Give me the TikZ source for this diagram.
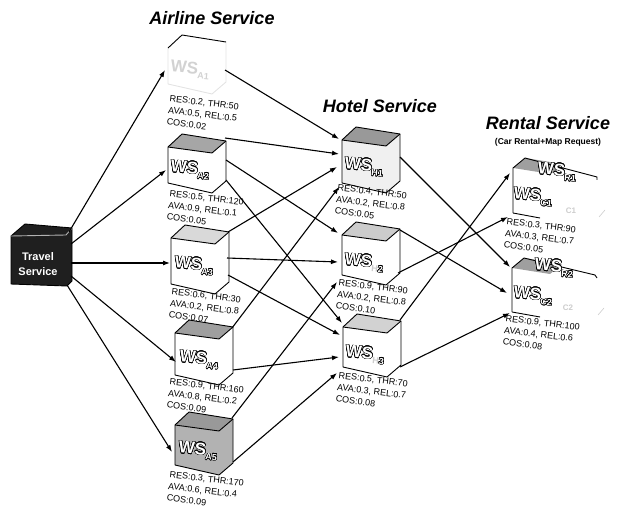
\documentclass[tikz,border=0pt]{standalone}
\usepackage{fontspec}
\setmainfont{Liberation Sans}
\usepackage{contour}
\contourlength{0.5pt}
\contournumber{16}
\usetikzlibrary{arrows.meta,calc}
\tikzset{
 cubeline/.style={line width=0.9pt, line join=round},
 conn/.style={line width=1.1pt, -{Latex[length=7pt,width=5pt]}},
 lbl/.style={font=\fontsize{9}{11.8}\selectfont, align=left, anchor=north west, rotate=-7, inner sep=0pt},
 ttl/.style={font=\fontsize{18}{20}\selectfont\bfseries\itshape},
 wsl/.style={font=\fontsize{17}{17}\selectfont\bfseries, inner sep=0pt, rotate=-5},
}
\newcommand\wsname[1]{{\color{white}\contour{black}{WS}\raisebox{-0.5ex}{\fontsize{9}{9}\selectfont\contour{black}{#1}}}}
\newcommand\wscube[6]{% name, x, y, h, front fill, top fill
 \coordinate (#1) at (#2,#3);
 \begin{scope}[shift={(#2,#3)}]
  \fill[#5] (0,0) -- (44,6) -- (58,-6) -- (58,#4-2) -- (44,#4+10) -- (0,#4) -- cycle;
  \fill[#6] (0,0) -- (14,-13) -- (58,-6) -- (44,6) -- cycle;
  \draw[cubeline] (0,0) -- (14,-13) -- (58,-6) -- (58,#4-2) -- (44,#4+10) -- (0,#4) -- cycle;
  \draw[cubeline] (0,0) -- (44,6) -- (58,-6);
 \end{scope}}
\begin{document}
\begin{tikzpicture}[x=1pt,y=-1pt]
\useasboundingbox (0,0) rectangle (621,510);
% titles
\node[ttl] (tA) at (212,18) {Airline Service};
\node[ttl] (tH) at (380,106) {Hotel Service};
\node[ttl] (tR) at (548,123) {Rental Service};
\node[font=\fontsize{8.5}{10}\selectfont\bfseries] (tRs) at (548,142) {(Car Rental+Map Request)};
% travel cube
\coordinate (T) at (11,236);
\fill[black!88] (11,236) -- (25,224) -- (72,228) -- (72,281) -- (67,286) -- (11,284) -- cycle;
\draw[cubeline] (11,236) -- (25,224) -- (72,228) -- (72,281) -- (67,286) -- (11,284) -- cycle;
\draw[cubeline, gray!60] (11,236) -- (66,235) -- (72,228);
\node[white, font=\fontsize{11}{15}\selectfont\bfseries, align=center] (Tt) at (38,264) {Travel\\Service};
% airline cubes
\coordinate (A1) at (168,48);
\begin{scope}[shift={(168,48)}]
 \draw[cubeline, gray!22] (58,-6) -- (58,34) -- (44,46) -- (0,36) -- (0,0);
 \draw[cubeline] (0,0) -- (14,-13) -- (58,-6);
 \node[wsl, text=gray!35] (A1t) at (22,22) {WS\raisebox{-0.5ex}{\fontsize{9}{9}\selectfont A1}};
\end{scope}
\wscube{A2}{168}{147}{36}{white}{gray!70}
\wscube{A3}{171}{238}{46}{white}{gray!30}
\wscube{A4}{175}{333}{42}{white}{gray!75}
\wscube{A5}{175}{425}{40}{gray!60}{gray!80}
\node[wsl] (A2t) at ($(A2)+(22,23)$) {\wsname{A2}};
\node[wsl] (A3t) at ($(A3)+(23,28)$) {\wsname{A3}};
\node[wsl] (A4t) at ($(A4)+(24,27)$) {\wsname{A4}};
\node[wsl] (A5t) at ($(A5)+(23,26)$) {\wsname{A5}};
% hotel cubes
\wscube{H1}{342}{140}{43}{gray!12}{gray!80}
\wscube{H2}{342}{235}{40}{white}{gray!40}
\wscube{H3}{343}{327}{40}{white}{gray!35}
\node[wsl] (H1t) at ($(H1)+(22,27)$) {\wsname{H1}};
\node[wsl] (H2t) at ($(H2)+(22,28)$) {{\color{white}\contour{black}{WS}\raisebox{-0.5ex}{\fontsize{9}{9}\selectfont{\color{gray!40}H}\contour{black}{2}}}};
\node[wsl] (H3t) at ($(H3)+(22,28)$) {{\color{white}\contour{black}{WS}\raisebox{-0.5ex}{\fontsize{9}{9}\selectfont{\color{gray!40}H}\contour{black}{3}}}};
% rental boxes
\coordinate (R1) at (513,168);
\begin{scope}[shift={(513,168)}]
 \fill[gray!75] (0,0) -- (12,-10) -- (50,-4) -- (38,6) -- cycle;
 \draw[cubeline] (0,45) -- (0,0) -- (12,-10) -- (84,9) -- (84,12);
 \draw[cubeline] (0,45) -- (27,50);
 \draw[gray!40, line width=0.6pt] (92,42) -- (86,49);
 \node[wsl] (R1t) at (44,4) {\wsname{R1}};
 \node[wsl] (C1t) at (20,29) {\wsname{C1}};
 \node[text=gray!40, font=\fontsize{8}{8}\selectfont\bfseries] (C1f) at (58,43) {C1};
\end{scope}
\coordinate (R2) at (512,268);
\begin{scope}[shift={(512,268)}]
 \fill[gray!75] (0,0) -- (12,-10) -- (50,-4) -- (38,6) -- cycle;
 \draw[cubeline] (0,44) -- (0,0) -- (12,-10) -- (83,7) -- (85,10);
 \draw[cubeline] (0,44) -- (28,49);
 \draw[gray!40, line width=0.6pt] (92,40) -- (86,47);
 \node[wsl] (R2t) at (42,0) {\wsname{R2}};
 \node[wsl] (C2t) at (21,28) {\wsname{C2}};
 \node[text=gray!40, font=\fontsize{8}{8}\selectfont\bfseries] (C2f) at (56,40) {C2};
\end{scope}
% labels
\node[lbl] (A1l) at (170,95) {RES:0.2, THR:50\\AVA:0.5, REL:0.5\\COS:0.02};
\node[lbl] (A2l) at (170,190) {RES:0.5, THR:120\\AVA:0.9, REL:0.1\\COS:0.05};
\node[lbl] (A3l) at (172,288) {RES:0.6, THR:30\\AVA:0.2, REL:0.8\\COS:0.07};
\node[lbl] (A4l) at (170,378) {RES:0.9, THR:160\\AVA:0.8, REL:0.2\\COS:0.09};
\node[lbl] (A5l) at (170,471) {RES:0.3, THR:170\\AVA:0.6, REL:0.4\\COS:0.09};
\node[lbl] (H1l) at (338,184) {RES:0.4, THR:50\\AVA:0.2, REL:0.8\\COS:0.05};
\node[lbl] (H2l) at (339,279) {RES:0.9, THR:90\\AVA:0.2, REL:0.8\\COS:0.10};
\node[lbl] (H3l) at (339,372) {RES:0.5, THR:70\\AVA:0.3, REL:0.7\\COS:0.08};
\node[lbl] (R1l) at (507,218) {RES:0.3, THR:90\\AVA:0.3, REL:0.7\\COS:0.05};
\node[lbl] (R2l) at (506,315) {RES:0.9, THR:100\\AVA:0.4, REL:0.6\\COS:0.08};
% connectors travel -> airline
\draw[conn] ($(T)+(58,-4)$) -- ($(A1)+(-3,22)$);
\draw[conn] ($(T)+(60,8)$) -- ($(A2)+(-2,23)$);
\draw[conn] ($(T)+(60,27)$) -- ($(A3)+(-1,25)$);
\draw[conn] ($(T)+(60,40)$) -- ($(A4)+(1,29)$);
\draw[conn] ($(T)+(56,49)$) -- ($(A5)+(-3,27)$);
% airline -> hotel
\draw[conn] ($(A1)+(57,22)$) -- ($(H1)+(-3,-1)$);
\draw[conn] ($(A2)+(57,-9)$) -- ($(H1)+(-3,14)$);
\draw[conn] ($(A2)+(58,13)$) -- ($(H2)+(-4,-2)$);
\draw[conn] ($(A2)+(58,33)$) -- ($(H3)+(-1,-4)$);
\draw[conn] ($(A3)+(57,-6)$) -- ($(H1)+(-5,27)$);
\draw[conn] ($(A3)+(56,20)$) -- ($(H2)+(-4,27)$);
\draw[conn] ($(A3)+(57,37)$) -- ($(H3)+(-3,8)$);
\draw[conn] ($(A4)+(57,-5)$) -- ($(H1)+(-3,47)$);
\draw[conn] ($(A4)+(58,37)$) -- ($(H3)+(-4,30)$);
\draw[conn] ($(A5)+(57,-7)$) -- ($(H2)+(-5,47)$);
\draw[conn] ($(A5)+(58,37)$) -- ($(H3)+(-6,46)$);
% hotel -> rental
\draw[conn] ($(H1)+(58,17)$) -- ($(R2)+(-2,-1)$);
\draw[conn] ($(H2)+(58,-5)$) -- ($(R2)+(-5,25)$);
\draw[conn] ($(H2)+(56,38)$) -- ($(R1)+(-5,49)$);
\draw[conn] ($(H3)+(57,-7)$) -- ($(R1)+(-3,5)$);
\draw[conn] ($(H3)+(57,40)$) -- ($(R2)+(-2,45)$);
\end{tikzpicture}
\end{document}
